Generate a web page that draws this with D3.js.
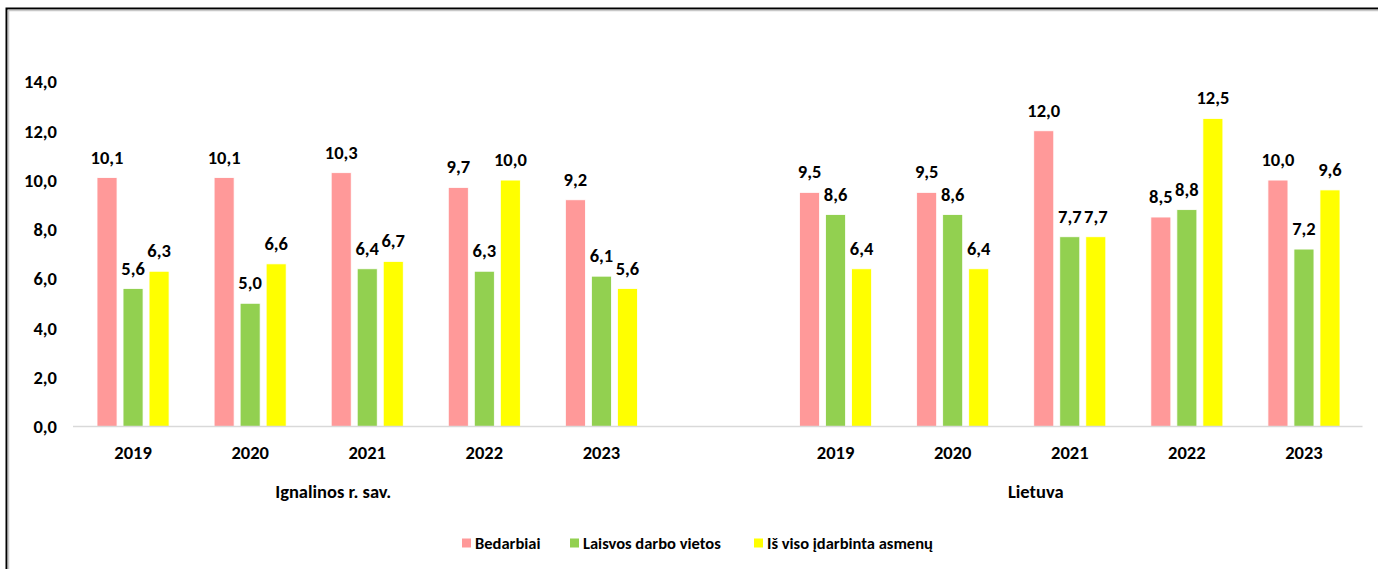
<!DOCTYPE html>
<html>
<head>
<meta charset="utf-8">
<script src="https://cdn.jsdelivr.net/npm/d3@7/dist/d3.min.js"></script>
<style>
  html, body { margin: 0; padding: 0; background: #fff; }
  svg { display: block; }
  text { font-family: Carlito, Lato, "Liberation Sans", sans-serif; font-weight: bold; fill: #000; }
</style>
</head>
<body>
<svg id="chart" width="1378" height="569"></svg>
<script>
// ---- Data ----
const groups = ["Ignalinos r. sav.", "Lietuva"];
const years = ["2019", "2020", "2021", "2022", "2023"];
const seriesNames = ["Bedarbiai", "Laisvos darbo vietos", "Iš viso įdarbinta asmenų"];
const seriesColors = ["#FF9999", "#92D050", "#FFFF00"];
const ignalinosBedarbiai = [10.1, 10.1, 10.3, 9.7, 9.2];
const ignalinosLaisvos = [5.6, 5.0, 6.4, 6.3, 6.1];
const ignalinosIsViso = [6.3, 6.6, 6.7, 10.0, 5.6];
const lietuvaBedarbiai = [9.5, 9.5, 12.0, 8.5, 10.0];
const lietuvaLaisvos = [8.6, 8.6, 7.7, 8.8, 7.2];
const lietuvaIsViso = [6.4, 6.4, 7.7, 12.5, 9.6];
const yTicks = [0, 2, 4, 6, 8, 10, 12, 14];

const groupValues = [
  [ignalinosBedarbiai, ignalinosLaisvos, ignalinosIsViso],
  [lietuvaBedarbiai, lietuvaLaisvos, lietuvaIsViso]
];

// categories: 5 years, one empty spacer, 5 years
const categories = [];
groups.forEach((g, gi) => {
  years.forEach((y, yi) => categories.push({ key: g + "|" + y, group: gi, year: y, yi }));
  if (gi < groups.length - 1) categories.push({ key: "spacer" + gi, group: -1, year: "" });
});

const svg = d3.select("#chart");
const fmt = v => d3.format(".1f")(v).replace(".", ",");
const FS = "18.5px";

// frame
svg.append("rect").attr("x", 6.5).attr("y", 8.5).attr("width", 1400).attr("height", 600)
  .attr("fill", "none").attr("stroke", "#000").attr("stroke-width", 2);
svg.append("rect").attr("x", 8.5).attr("y", 10.5).attr("width", 1400).attr("height", 600)
  .attr("fill", "none").attr("stroke", "#c8c8c8").attr("stroke-width", 1.5);

const x = d3.scaleBand().domain(categories.map(c => c.key)).range([74.5, 1362.5]).padding(0);
const y = d3.scaleLinear().domain([0, 14]).range([426.5, 81.5]);

const clusterFrac = 72 / 117;
const x1 = d3.scaleBand().domain(d3.range(seriesNames.length))
  .range([x.bandwidth() * (1 - clusterFrac) / 2, x.bandwidth() * (1 + clusterFrac) / 2])
  .paddingInner(6 / 26).paddingOuter(0);

// y axis labels (no line)
const yAxis = d3.axisLeft(y).tickValues(yTicks).tickFormat(fmt).tickSize(0).tickPadding(0);
const gy = svg.append("g").attr("transform", "translate(57,0)").call(yAxis);
gy.select(".domain").remove();
gy.selectAll("text").style("font-size", FS).attr("dy", "0.34em");

// bars
const barData = [];
categories.filter(c => c.group >= 0).forEach(c => {
  seriesNames.forEach((s, si) => {
    barData.push({ cat: c.key, si, v: groupValues[c.group][si][c.yi] });
  });
});

const gb = svg.append("g");
gb.selectAll("rect").data(barData).join("rect")
  .attr("x", d => x(d.cat) + x1(d.si))
  .attr("y", d => y(d.v))
  .attr("width", x1.bandwidth())
  .attr("height", d => y(0) - y(d.v))
  .attr("fill", d => seriesColors[d.si])
  .attr("stroke", "#fff").attr("stroke-width", 0.8);

// data labels
gb.selectAll("text").data(barData).join("text")
  .attr("x", d => x(d.cat) + x1(d.si) + x1.bandwidth() / 2)
  .attr("y", d => y(d.v) - 14)
  .attr("text-anchor", "middle")
  .style("font-size", FS)
  .text(d => fmt(d.v));

// x axis line
svg.append("line").attr("x1", 73).attr("x2", 1362.5).attr("y1", 426.5).attr("y2", 426.5)
  .attr("stroke", "#d9d9d9").attr("stroke-width", 1.5);

// year labels
svg.append("g").selectAll("text").data(categories.filter(c => c.group >= 0)).join("text")
  .attr("x", d => x(d.key) + x.bandwidth() / 2)
  .attr("y", 458.5)
  .attr("text-anchor", "middle")
  .style("font-size", FS)
  .text(d => d.year);

// group labels
svg.append("g").selectAll("text").data(groups).join("text")
  .attr("x", (g, gi) => {
    const cats = categories.filter(c => c.group === gi);
    const a = x(cats[0].key), b = x(cats[cats.length - 1].key) + x.bandwidth();
    return (a + b) / 2 - 34;
  })
  .attr("y", 498)
  .attr("text-anchor", "middle")
  .style("font-size", FS)
  .text(g => g);

// legend
const legendX = [462, 570, 754];
const lg = svg.append("g");
seriesNames.forEach((s, si) => {
  lg.append("rect").attr("x", legendX[si]).attr("y", 538.5).attr("width", 9).attr("height", 9)
    .attr("fill", seriesColors[si]);
  lg.append("text").attr("x", legendX[si] + 13).attr("y", 549)
    .style("font-size", "16.5px").text(s);
});
</script>
</body>
</html>
